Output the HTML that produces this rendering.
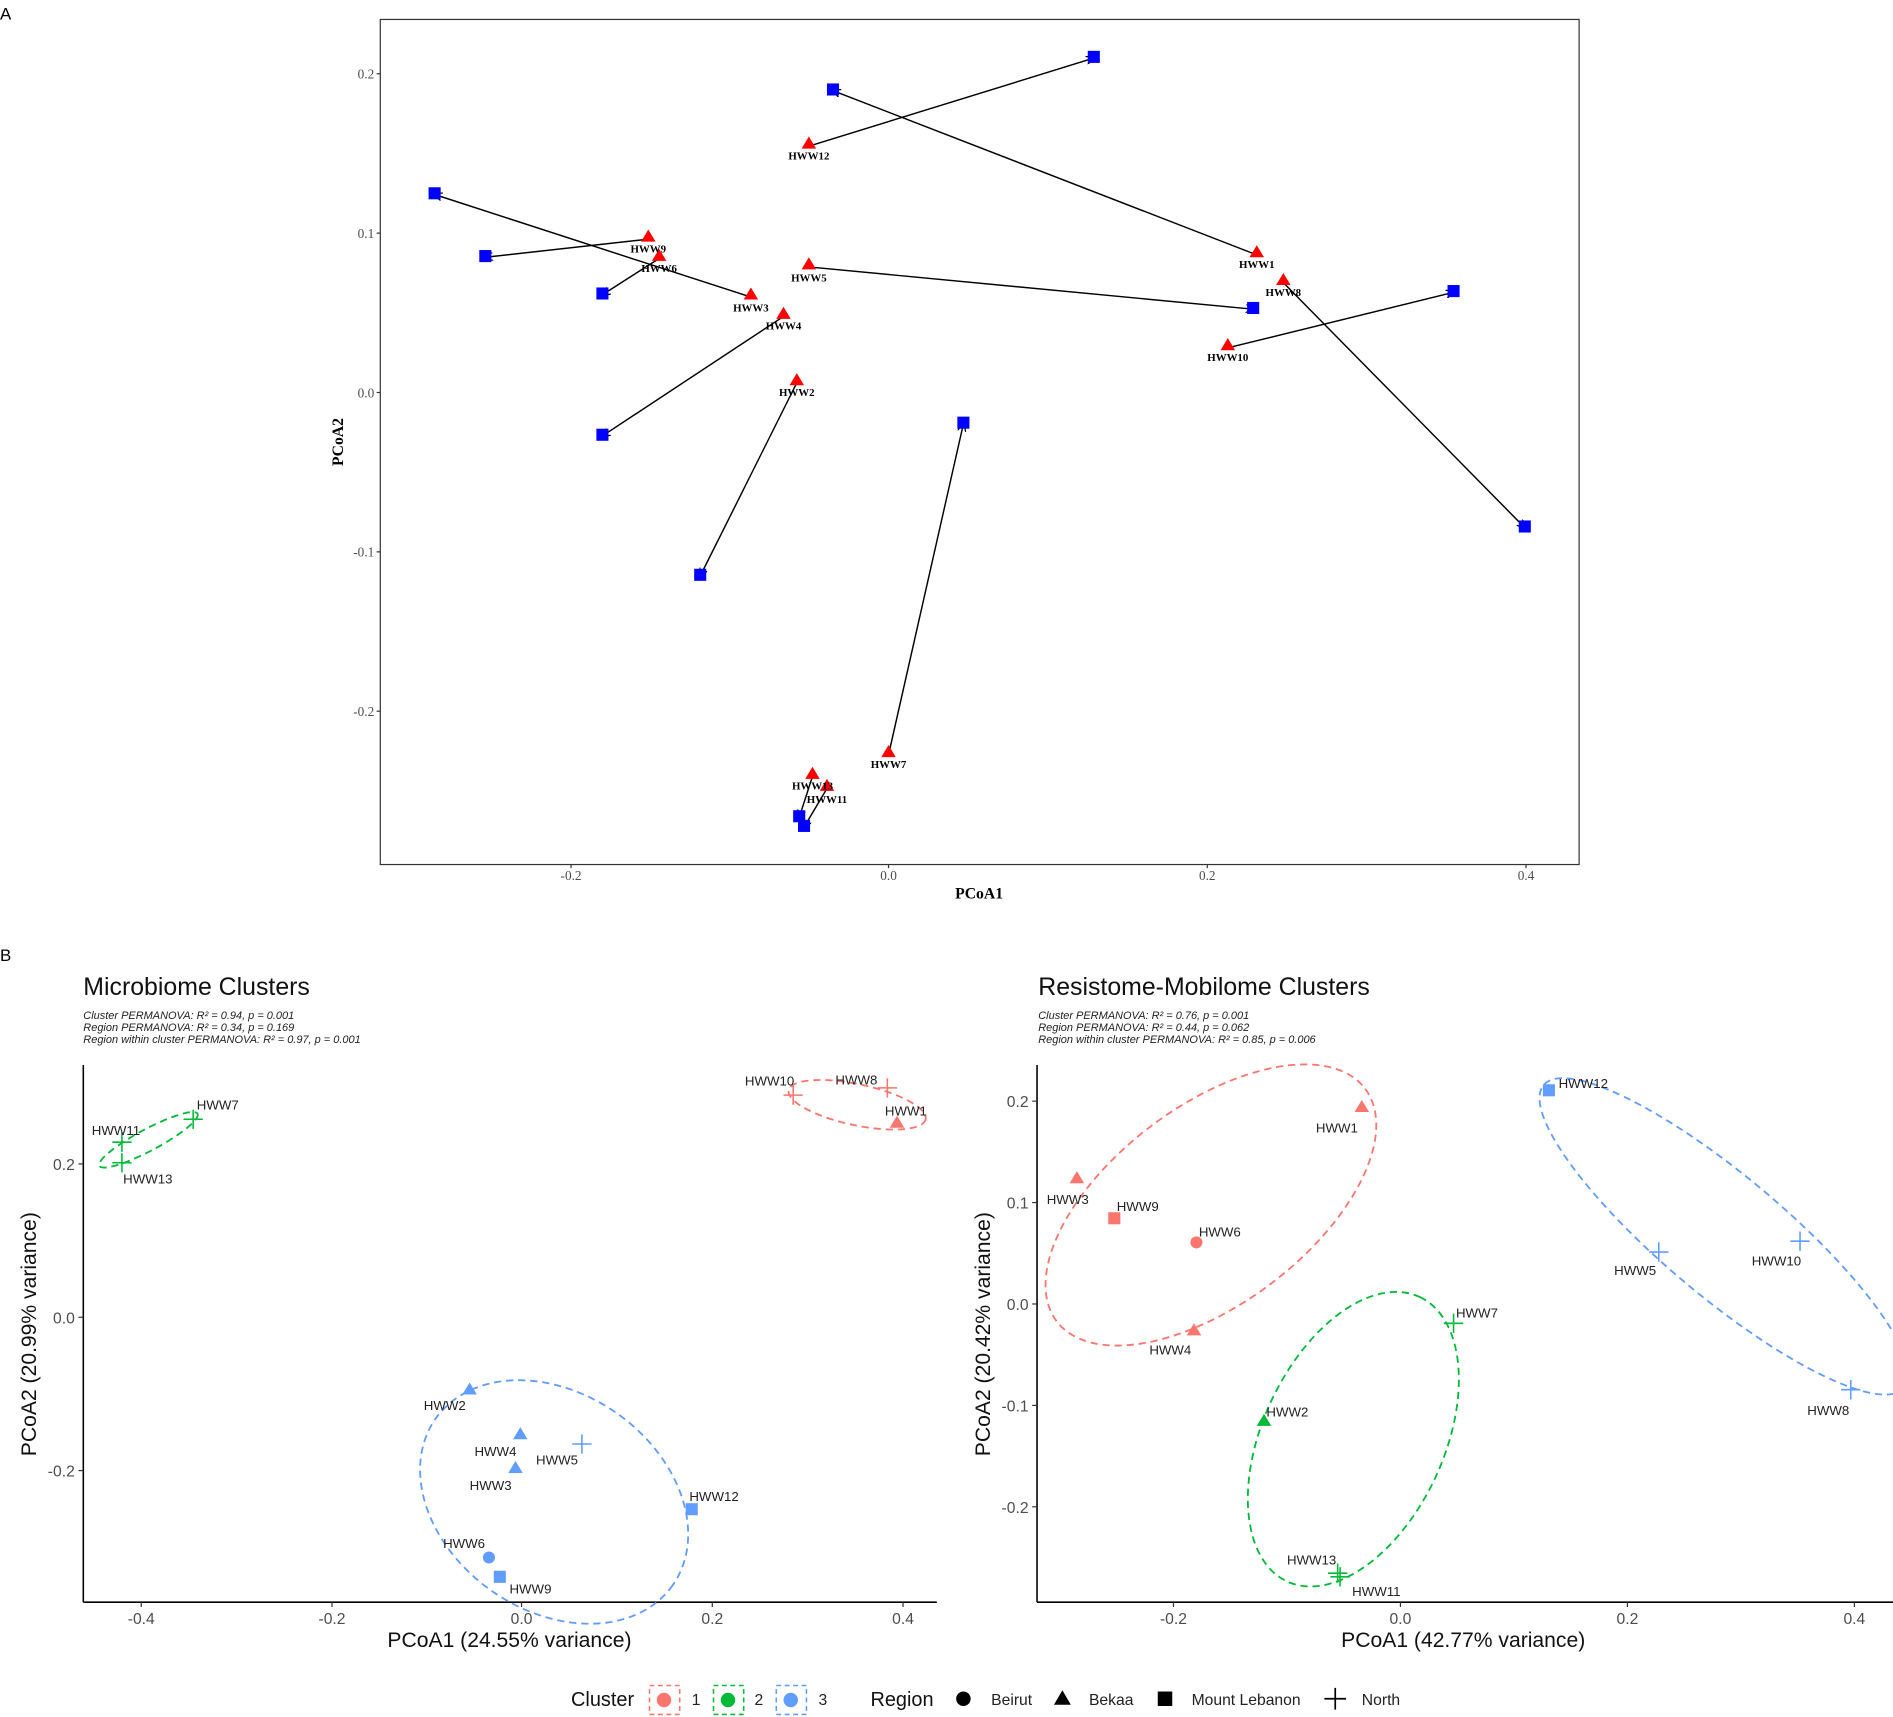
<!DOCTYPE html>
<html><head><meta charset="utf-8"><style>
html,body{margin:0;padding:0;background:#fff;}
svg{display:block;}
.ser{font-family:"Liberation Serif",serif;}
.san{font-family:"Liberation Sans",sans-serif;}
.tk{font-size:11px;fill:#4d4d4d;}
.al{font-size:9px;font-weight:bold;font-family:"Liberation Serif",serif;text-anchor:middle;}
.bl{font-size:11px;fill:#222;font-family:"Liberation Sans",sans-serif;}
.tb{font-size:13px;fill:#4d4d4d;font-family:"Liberation Sans",sans-serif;}
.sub{font-size:9.1px;font-style:italic;fill:#222;font-family:"Liberation Sans",sans-serif;}
</style></head><body>
<svg width="1893" height="1717" viewBox="0 0 1568 1422" xmlns="http://www.w3.org/2000/svg">
<defs>
<marker id="ar" viewBox="0 0 10 10" refX="9" refY="5" markerWidth="7" markerHeight="7" orient="auto-start-reverse" markerUnits="userSpaceOnUse">
<path d="M0,0 L10,5 L0,10" fill="none" stroke="#000" stroke-width="1.5"/></marker>
<clipPath id="cr"><rect x="859" y="870" width="709" height="460"/></clipPath>
</defs>
<rect width="1568" height="1422" fill="#fff"/>
<!-- PANEL A -->
<text x="0" y="16" class="san" font-size="14">A</text>
<rect x="315" y="16" width="993" height="700" fill="none" stroke="#333" stroke-width="1"/>
<g class="ser tk" text-anchor="end">
<text x="310" y="65">0.2</text><text x="310" y="197">0.1</text><text x="310" y="329">0.0</text><text x="310" y="461">-0.1</text><text x="310" y="593">-0.2</text>
</g>
<g stroke="#333"><line x1="312" y1="61" x2="315" y2="61"/><line x1="312" y1="193" x2="315" y2="193"/><line x1="312" y1="325" x2="315" y2="325"/><line x1="312" y1="457" x2="315" y2="457"/><line x1="312" y1="589" x2="315" y2="589"/>
<line x1="473" y1="716" x2="473" y2="719"/><line x1="736" y1="716" x2="736" y2="719"/><line x1="1000" y1="716" x2="1000" y2="719"/><line x1="1264" y1="716" x2="1264" y2="719"/></g>
<g class="ser tk" text-anchor="middle"><text x="473" y="729">-0.2</text><text x="736" y="729">0.0</text><text x="1000" y="729">0.2</text><text x="1264" y="729">0.4</text></g>
<text x="811" y="744" class="ser" font-size="13" font-weight="bold" text-anchor="middle">PCoA1</text>
<text transform="translate(284,366) rotate(-90)" class="ser" font-size="13" font-weight="bold" text-anchor="middle">PCoA2</text>
<g stroke="#000" stroke-width="1.2" marker-end="url(#ar)" fill="none">
<line x1="670" y1="121" x2="906" y2="48"/>
<line x1="1041" y1="211" x2="690" y2="75"/>
<line x1="537" y1="198" x2="402" y2="213"/>
<line x1="622" y1="246" x2="360" y2="161"/>
<line x1="546" y1="214" x2="499" y2="244"/>
<line x1="670" y1="221" x2="1038" y2="256"/>
<line x1="649" y1="262" x2="499" y2="361"/>
<line x1="660" y1="317" x2="580" y2="477"/>
<line x1="736" y1="625" x2="798" y2="351"/>
<line x1="1063" y1="234" x2="1263" y2="437"/>
<line x1="1017" y1="288" x2="1204" y2="242"/>
<line x1="673" y1="643" x2="662" y2="677"/>
<line x1="685" y1="653" x2="666" y2="685"/>
</g>
<g fill="#0000ff">
<rect x="901" y="42" width="10" height="10"/><rect x="685" y="69" width="10" height="10"/><rect x="397" y="207" width="10" height="10"/><rect x="355" y="155" width="10" height="10"/><rect x="494" y="238" width="10" height="10"/><rect x="1033" y="250" width="10" height="10"/><rect x="494" y="355" width="10" height="10"/><rect x="575" y="471" width="10" height="10"/><rect x="793" y="345" width="10" height="10"/><rect x="1258" y="431" width="10" height="10"/><rect x="1199" y="236" width="10" height="10"/><rect x="657" y="671" width="10" height="10"/><rect x="661" y="679" width="10" height="10"/>
</g>
<g fill="#ff0000">
<path d="M670,113 l6,10 h-12z"/><path d="M1041,203 l6,10 h-12z"/><path d="M537,190 l6,10 h-12z"/><path d="M622,238 l6,10 h-12z"/><path d="M546,206 l6,10 h-12z"/><path d="M670,213 l6,10 h-12z"/><path d="M649,254 l6,10 h-12z"/><path d="M660,309 l6,10 h-12z"/><path d="M736,617 l6,10 h-12z"/><path d="M1063,226 l6,10 h-12z"/><path d="M1017,280 l6,10 h-12z"/><path d="M673,635 l6,10 h-12z"/><path d="M685,645 l6,10 h-12z"/>
</g>
<g class="al">
<text x="670" y="132">HWW12</text><text x="1041" y="222">HWW1</text><text x="537" y="209">HWW9</text><text x="622" y="258">HWW3</text><text x="546" y="225">HWW6</text><text x="670" y="233">HWW5</text><text x="649" y="273">HWW4</text><text x="660" y="328">HWW2</text><text x="736" y="636">HWW7</text><text x="1063" y="245">HWW8</text><text x="1017" y="299">HWW10</text><text x="673" y="654">HWW13</text><text x="685" y="665">HWW11</text>
</g>
<!-- PANEL B -->
<text x="0" y="796" class="san" font-size="14">B</text>
<text x="69" y="824" class="san" font-size="20.6" fill="#111">Microbiome Clusters</text>
<text x="69" y="844" class="sub">Cluster PERMANOVA: R² = 0.94, p = 0.001</text>
<text x="69" y="854" class="sub">Region PERMANOVA:  R² = 0.34, p = 0.169</text>
<text x="69" y="864" class="sub">Region within cluster PERMANOVA: R² = 0.97, p = 0.001</text>
<text x="860" y="824" class="san" font-size="20.6" fill="#111">Resistome-Mobilome Clusters</text>
<text x="860" y="844" class="sub">Cluster PERMANOVA: R² = 0.76, p = 0.001</text>
<text x="860" y="854" class="sub">Region PERMANOVA:  R² = 0.44, p = 0.062</text>
<text x="860" y="864" class="sub">Region within cluster PERMANOVA: R² = 0.85, p = 0.006</text>
<!-- left axes -->
<g stroke="#000" stroke-width="1.3"><line x1="69" y1="882" x2="69" y2="1327"/><line x1="69" y1="1327" x2="776" y2="1327"/></g>
<g stroke="#333"><line x1="65" y1="964" x2="69" y2="964"/><line x1="65" y1="1091" x2="69" y2="1091"/><line x1="65" y1="1218" x2="69" y2="1218"/>
<line x1="117" y1="1327" x2="117" y2="1331"/><line x1="275" y1="1327" x2="275" y2="1331"/><line x1="432" y1="1327" x2="432" y2="1331"/><line x1="590" y1="1327" x2="590" y2="1331"/><line x1="748" y1="1327" x2="748" y2="1331"/></g>
<g class="tb" text-anchor="end"><text x="62" y="969">0.2</text><text x="62" y="1096">0.0</text><text x="62" y="1223">-0.2</text></g>
<g class="tb" text-anchor="middle"><text x="117" y="1345">-0.4</text><text x="275" y="1345">-0.2</text><text x="432" y="1345">0.0</text><text x="590" y="1345">0.2</text><text x="748" y="1345">0.4</text></g>
<text x="422" y="1364" class="san" font-size="17.5" text-anchor="middle" fill="#111">PCoA1 (24.55% variance)</text>
<text transform="translate(30,1105) rotate(-90)" class="san" font-size="17.5" text-anchor="middle" fill="#111">PCoA2 (20.99% variance)</text>
<!-- right axes -->
<g stroke="#000" stroke-width="1.3"><line x1="859" y1="882" x2="859" y2="1327"/><line x1="859" y1="1327" x2="1568" y2="1327"/></g>
<g stroke="#333"><line x1="855" y1="912" x2="859" y2="912"/><line x1="855" y1="996" x2="859" y2="996"/><line x1="855" y1="1080" x2="859" y2="1080"/><line x1="855" y1="1164" x2="859" y2="1164"/><line x1="855" y1="1248" x2="859" y2="1248"/>
<line x1="972" y1="1327" x2="972" y2="1331"/><line x1="1160" y1="1327" x2="1160" y2="1331"/><line x1="1348" y1="1327" x2="1348" y2="1331"/><line x1="1536" y1="1327" x2="1536" y2="1331"/></g>
<g class="tb" text-anchor="end"><text x="852" y="917">0.2</text><text x="852" y="1001">0.1</text><text x="852" y="1085">0.0</text><text x="852" y="1169">-0.1</text><text x="852" y="1253">-0.2</text></g>
<g class="tb" text-anchor="middle"><text x="972" y="1345">-0.2</text><text x="1160" y="1345">0.0</text><text x="1348" y="1345">0.2</text><text x="1536" y="1345">0.4</text></g>
<text x="1212" y="1364" class="san" font-size="17.5" text-anchor="middle" fill="#111">PCoA1 (42.77% variance)</text>
<text transform="translate(820,1105) rotate(-90)" class="san" font-size="17.5" text-anchor="middle" fill="#111">PCoA2 (20.42% variance)</text>
<!-- left ellipses -->
<g fill="none" stroke-width="1.5" stroke-dasharray="6,4">
<ellipse cx="710" cy="915" rx="58" ry="17" transform="rotate(12 710 915)" stroke="#F8766D"/>
<ellipse cx="123" cy="944" rx="46" ry="9" transform="rotate(-28 123 944)" stroke="#00BA38"/>
<ellipse cx="459" cy="1244" rx="120" ry="90" transform="rotate(35 459 1244)" stroke="#619CFF"/>
</g>
<g clip-path="url(#cr)" fill="none" stroke-width="1.5" stroke-dasharray="6,4">
<ellipse cx="1003" cy="998" rx="160" ry="82" transform="rotate(-37 1003 998)" stroke="#F8766D"/>
<ellipse cx="1121" cy="1192" rx="130" ry="75" transform="rotate(-65 1121 1192)" stroke="#00BA38"/>
<ellipse cx="1428" cy="1024" rx="195" ry="50" transform="rotate(40 1428 1024)" stroke="#619CFF"/>
</g>
<!-- points -->
<g stroke-width="1.3" fill="none">
<path d="M649,907 h16 M657,899 v16" stroke="#F8766D"/>
<path d="M727,901 h16 M735,893 v16" stroke="#F8766D"/>
<path d="M152,927 h16 M160,919 v16" stroke="#00BA38"/>
<path d="M93,946 h16 M101,938 v16" stroke="#00BA38"/>
<path d="M93,963 h16 M101,955 v16" stroke="#00BA38"/>
<path d="M474,1196 h16 M482,1188 v16" stroke="#619CFF"/>
<path d="M1366,1037 h16 M1374,1029 v16" stroke="#619CFF"/>
<path d="M1483,1028 h16 M1491,1020 v16" stroke="#619CFF"/>
<path d="M1525,1151 h16 M1533,1143 v16" stroke="#619CFF"/>
<path d="M1196,1096 h16 M1204,1088 v16" stroke="#00BA38"/>
<path d="M1100,1303 h16 M1108,1295 v16" stroke="#00BA38"/>
<path d="M1102,1306 h16 M1110,1298 v16" stroke="#00BA38"/>
</g>
<path d="M743,924 l6,10 h-12z" fill="#F8766D"/>
<g fill="#619CFF">
<path d="M389,1145 l6,10 h-12z"/><path d="M431,1182 l6,10 h-12z"/><path d="M427,1210 l6,10 h-12z"/>
<rect x="568" y="1245" width="10" height="10"/><circle cx="405" cy="1290" r="5"/><rect x="409" y="1301" width="10" height="10"/>
<rect x="1278" y="898" width="10" height="10"/>
</g>
<g fill="#F8766D">
<path d="M1128,911 l6,10 h-12z"/><path d="M892,970 l6,10 h-12z"/><rect x="918" y="1004" width="10" height="10"/><circle cx="991" cy="1029" r="5"/><path d="M989,1096 l6,10 h-12z"/>
</g>
<path d="M1047,1171 l6,10 h-12z" fill="#00BA38"/>
<g class="bl">
<text x="617" y="899">HWW10</text><text x="692" y="898">HWW8</text><text x="733" y="924">HWW1</text>
<text x="163" y="919">HWW7</text><text x="76" y="940">HWW11</text><text x="102" y="980">HWW13</text>
<text x="351" y="1168">HWW2</text><text x="393" y="1206">HWW4</text><text x="389" y="1234">HWW3</text><text x="444" y="1213">HWW5</text><text x="571" y="1243">HWW12</text><text x="367" y="1282">HWW6</text><text x="422" y="1320">HWW9</text>
<text x="1090" y="938">HWW1</text><text x="867" y="997">HWW3</text><text x="925" y="1003">HWW9</text><text x="993" y="1024">HWW6</text><text x="952" y="1122">HWW4</text>
<text x="1291" y="901">HWW12</text><text x="1337" y="1056">HWW5</text><text x="1451" y="1048">HWW10</text><text x="1497" y="1172">HWW8</text>
<text x="1206" y="1091">HWW7</text><text x="1049" y="1173">HWW2</text><text x="1066" y="1296">HWW13</text><text x="1120" y="1322">HWW11</text>
</g>
<!-- legend -->
<g class="san" fill="#111">
<text x="473" y="1413" font-size="16.5">Cluster</text>
<text x="721" y="1413" font-size="16.5">Region</text>
</g>
<g fill="none" stroke-width="1.3" stroke-dasharray="4,3">
<rect x="538" y="1396" width="25" height="24" stroke="#F8766D"/>
<rect x="591" y="1396" width="25" height="24" stroke="#00BA38"/>
<rect x="643" y="1396" width="25" height="24" stroke="#619CFF"/>
</g>
<circle cx="550" cy="1408" r="6" fill="#F8766D"/><circle cx="603" cy="1408" r="6" fill="#00BA38"/><circle cx="655" cy="1408" r="6" fill="#619CFF"/>
<g class="san" font-size="13" fill="#222">
<text x="573" y="1412">1</text><text x="625" y="1412">2</text><text x="678" y="1412">3</text>
<text x="821" y="1412">Beirut</text><text x="902" y="1412">Bekaa</text><text x="987" y="1412">Mount Lebanon</text><text x="1128" y="1412">North</text>
</g>
<circle cx="798" cy="1407" r="6" fill="#000"/>
<path d="M880,1400 l7,12 h-14z" fill="#000"/>
<rect x="959" y="1401" width="12" height="12" fill="#000"/>
<path d="M1097,1407 h18 M1106,1398 v18" stroke="#000" stroke-width="1.4"/>
</svg>
</body></html>
